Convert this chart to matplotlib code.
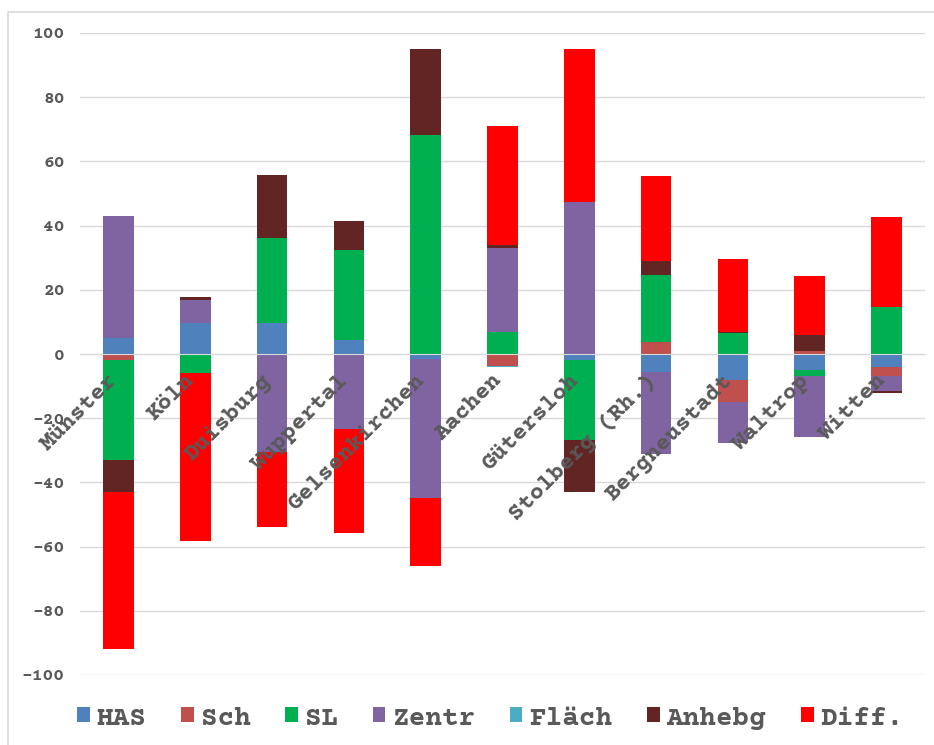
import numpy as np
import matplotlib
matplotlib.use("Agg")
import matplotlib.pyplot as plt
import matplotlib.transforms as mtransforms
from matplotlib.patches import Rectangle

# %% Data

cities = ['Münster', 'Köln', 'Duisburg', 'Wuppertal', 'Gelsenkirchen', 'Aachen',
          'Gütersloh', 'Stolberg (Rh.)', 'Bergneustadt', 'Waltrop', 'Witten']

has = [5, 9.6, 9.6, 4.4, -1.5, 0, -2, -5.5, -8.1, -5, -3.9]
sch = [-2, 0, 0, 0, 0, -3.8, 0, 3.8, -6.8, 0.8, -3]
sl = [-31, -6, 26.5, 28, 68.2, 6.9, -24.8, 20.8, 6.4, -1.8, 14.7]
zentr = [38, 7.2, -30.5, -23.4, -43.4, 26, 47.4, -25.7, -12.9, -19, -4.6]
flaech = [0, 0, 0, 0, 0, -0.4, 0, 0, 0, 0, 0]
anhebg = [-10, 0.9, 19.7, 9.1, 26.8, 1.1, -16.3, 4.4, 0.5, 5.1, -0.5]
diff = [-49, -52.3, -23.3, -32.4, -21.1, 37.1, 47.6, 26.5, 22.7, 18.5, 27.9]

series_names = ['HAS', 'Sch', 'SL', 'Zentr', 'Fläch', 'Anhebg', 'Diff.']
series_values = [has, sch, sl, zentr, flaech, anhebg, diff]
series_colours = ['#4f81bd', '#c0504d', '#00b050', '#8064a2', '#4bacc6', '#632523', '#ff0000']

# %% Figure setup

font = ['Courier Prime', 'FreeMono', 'DejaVu Sans Mono']
grey = '#595959'

fig = plt.figure(figsize=(9.34, 7.45), dpi=100)
fig.set_facecolor('white')
ax = fig.add_axes([80/934, 70/745, 845/934, 642/745])

# Chart border
fig.patches.append(Rectangle((8/934, -0.1), 1.2, 1 - 12/745 + 0.1, transform=fig.transFigure,
                             fill=False, edgecolor='#d9d9d9', lw=1.2, zorder=0))

# %% Stacked bars, positives above zero and negatives below

x = np.arange(len(cities))
pos_bottom = np.zeros(len(cities))
neg_bottom = np.zeros(len(cities))
for name, vals, colour in zip(series_names, series_values, series_colours):
    vals = np.array(vals, dtype=float)
    bottom = np.where(vals >= 0, pos_bottom, neg_bottom)
    ax.bar(x, vals, bottom=bottom, width=0.4, color=colour, label=name, zorder=2)
    pos_bottom += np.clip(vals, 0, None)
    neg_bottom += np.clip(vals, None, 0)

# %% Axes styling

ax.set_xlim(-0.5, len(cities) - 0.5)
ax.set_ylim(-100, 100)
ax.set_yticks(np.arange(-100, 101, 20))
ax.yaxis.grid(True, color='#d9d9d9', lw=1)
ax.set_axisbelow(True)
for side in ['top', 'right', 'left']:
    ax.spines[side].set_visible(False)
ax.spines['bottom'].set_position(('data', 0))
ax.spines['bottom'].set_color('#d9d9d9')
ax.spines['bottom'].set_zorder(3)
ax.tick_params(axis='y', length=0, pad=11, labelcolor=grey)
ax.tick_params(axis='x', length=0, pad=12, labelcolor=grey)
for lab in ax.get_yticklabels():
    lab.set_fontfamily(font)
    lab.set_fontweight('bold')
    lab.set_fontsize(13)

# Category labels sit on the zero line, drawn over the bars
ax.set_xticks(x)
ax.set_xticklabels(cities, rotation=45, ha='right', rotation_mode='anchor',
                   fontfamily=font, fontweight='bold', fontsize=17)
ax.xaxis.set_zorder(4)
shift = mtransforms.ScaledTranslation(-8/72, 0, fig.dpi_scale_trans)
for lab in ax.get_xticklabels():
    lab.set_transform(lab.get_transform() + shift)

# %% Legend

fig.legend(loc='center', bbox_to_anchor=(0.525, 0.036), ncol=7, frameon=False,
           handlelength=0.45, handleheight=0.45, handletextpad=0.25, columnspacing=1.25,
           prop={'family': font, 'weight': 'bold', 'size': 20}, labelcolor=grey)

plt.savefig('out.png', dpi=100)
